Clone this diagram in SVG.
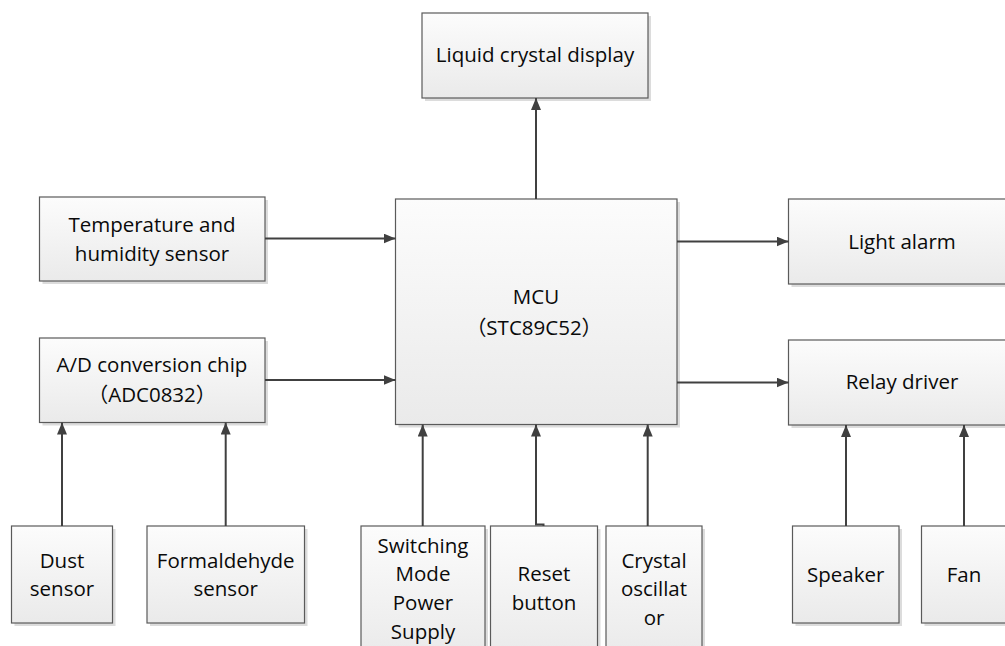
<svg xmlns="http://www.w3.org/2000/svg" width="1005" height="646" viewBox="0 0 1005 646">
<defs>
<linearGradient id="g" x1="0" y1="0" x2="0" y2="1">
<stop offset="0" stop-color="#fcfcfc"/>
<stop offset="1" stop-color="#eaeaea"/>
</linearGradient>
<marker id="ah" viewBox="0 0 12 10" refX="12" refY="5" markerWidth="12" markerHeight="10" markerUnits="userSpaceOnUse" orient="auto">
<path d="M0,0 L12,5 L0,10 z" fill="#404040"/>
</marker>
<style>
.sh{fill:#dcdcdc}
.bx{fill:url(#g);stroke:#5a5a5a;stroke-width:1.2}
.t{font-family:"Open Sans","Noto Sans CJK SC",sans-serif;font-size:20.5px;fill:#0a0a0a;text-anchor:middle}
.c{fill:none;stroke:#404040;stroke-width:2;marker-end:url(#ah)}
</style>
</defs>
<rect width="1005" height="646" fill="#fff"/>

<g id="lcd">
<rect class="sh" x="425" y="16" width="226" height="85"/>
<rect class="bx" x="422" y="13" width="226" height="85"/>
<text class="t" x="535" y="62">Liquid crystal display</text>
</g>

<g id="mcu">
<rect class="sh" x="398.5" y="202" width="281.5" height="225.5"/>
<rect class="bx" x="395.5" y="199" width="281.5" height="225.5"/>
<text class="t" x="536" y="304">MCU</text>
<text class="t" x="534" y="335">（STC89C52）</text>
</g>

<g id="temp">
<rect class="sh" x="42.5" y="200" width="225.5" height="84"/>
<rect class="bx" x="39.5" y="197" width="225.5" height="84"/>
<text class="t" x="152" y="231.5">Temperature and</text>
<text class="t" x="152" y="260.5">humidity sensor</text>
</g>

<g id="adc">
<rect class="sh" x="42.5" y="341" width="225.5" height="84.5"/>
<rect class="bx" x="39.5" y="338" width="225.5" height="84.5"/>
<text class="t" x="152" y="371.5">A/D conversion chip</text>
<text class="t" x="152" y="401.5">（ADC0832）</text>
</g>

<g id="light">
<rect class="sh" x="791.5" y="202" width="220" height="85"/>
<rect class="bx" x="788.5" y="199" width="220" height="85"/>
<text class="t" x="902" y="248.5">Light alarm</text>
</g>

<g id="relay">
<rect class="sh" x="791.5" y="343" width="220" height="85"/>
<rect class="bx" x="788.5" y="340" width="220" height="85"/>
<text class="t" x="902" y="389">Relay driver</text>
</g>

<g id="dust">
<rect class="sh" x="14.5" y="529" width="101" height="97"/>
<rect class="bx" x="11.5" y="526" width="101" height="97"/>
<text class="t" x="62" y="567.5">Dust</text>
<text class="t" x="62" y="596">sensor</text>
</g>

<g id="formaldehyde">
<rect class="sh" x="150" y="529" width="157.5" height="97"/>
<rect class="bx" x="147" y="526" width="157.5" height="97"/>
<text class="t" x="225.7" y="567.5">Formaldehyde</text>
<text class="t" x="225.7" y="596">sensor</text>
</g>

<g id="smps">
<rect class="sh" x="364" y="529" width="124" height="130"/>
<rect class="bx" x="361" y="526" width="124" height="130"/>
<text class="t" x="423" y="553">Switching</text>
<text class="t" x="423" y="581">Mode</text>
<text class="t" x="423" y="610">Power</text>
<text class="t" x="423" y="638.5">Supply</text>
</g>

<g id="reset">
<rect class="sh" x="493.5" y="529" width="107" height="130"/>
<rect class="bx" x="490.5" y="526" width="107" height="130"/>
<text class="t" x="544" y="581">Reset</text>
<text class="t" x="544" y="610">button</text>
</g>

<g id="crystal">
<rect class="sh" x="609" y="529" width="96" height="130"/>
<rect class="bx" x="606" y="526" width="96" height="130"/>
<text class="t" x="654" y="567.5">Crystal</text>
<text class="t" x="654" y="596">oscillat</text>
<text class="t" x="654" y="625">or</text>
</g>

<g id="speaker">
<rect class="sh" x="795.5" y="529" width="106.5" height="97"/>
<rect class="bx" x="792.5" y="526" width="106.5" height="97"/>
<text class="t" x="845.7" y="582">Speaker</text>
</g>

<g id="fan">
<rect class="sh" x="924.5" y="529" width="90" height="97"/>
<rect class="bx" x="921.5" y="526" width="90" height="97"/>
<text class="t" x="964" y="582">Fan</text>
</g>

<g id="connectors">
<path class="c" d="M536,199 V98"/>
<path class="c" d="M265,238.5 H395.5"/>
<path class="c" d="M265,380 H395.5"/>
<path class="c" d="M677,241.5 H788.5"/>
<path class="c" d="M677,382.5 H788.5"/>
<path class="c" d="M62,526 V422.5"/>
<path class="c" d="M225.7,526 V422.5"/>
<path class="c" d="M422.7,526 V424.5"/>
<path class="c" d="M543.5,526 V524.5 H536 V424.5"/>
<path class="c" d="M647.7,526 V424.5"/>
<path class="c" d="M846,526 V425"/>
<path class="c" d="M964,526 V425"/>
</g>
</svg>
